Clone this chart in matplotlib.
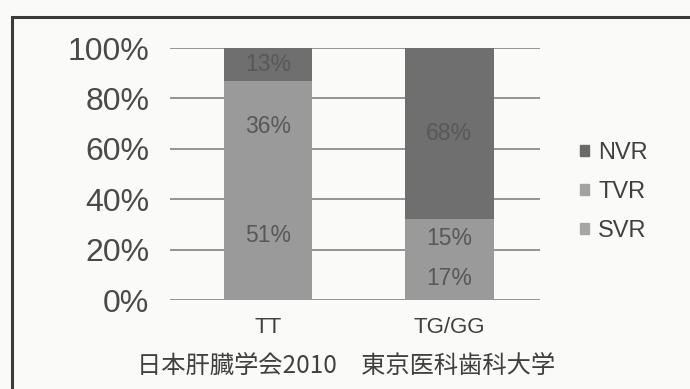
import numpy as np
import matplotlib
matplotlib.use('Agg')
import matplotlib.pyplot as plt
from matplotlib.patches import Patch, Rectangle

# genotype groups and response rates (%)
groups = ['TT', 'TG/GG']
svr = [51, 17]
tvr = [36, 15]
nvr = [13, 68]
yticks = [0, 20, 40, 60, 80, 100]
footer = '日本肝臓学会2010\u3000東京医科歯科大学'

plt.rcParams['font.family'] = ['Liberation Sans', 'DejaVu Sans']

col_svr = '#9a9a9a'
col_tvr = '#9a9a9a'
col_nvr = '#6f6f6f'
txt = '#4a4a4a'

fig = plt.figure(figsize=(6.9, 3.89), dpi=100)
fig.patch.set_facecolor('#fafaf8')

# scanned frame: only left and top edges are visible
fig.patches.append(Rectangle((12 / 690, -0.5), 2.0, 1.5 - 17 / 389,
                             transform=fig.transFigure, fill=False,
                             edgecolor='#3a3a3a', linewidth=2.2))

ax = fig.add_axes([170 / 690, 1 - 300 / 389, 370 / 690, 252 / 389])
ax.set_facecolor('none')

x = np.arange(len(groups))
w = 0.49
svr_a = np.array(svr)
tvr_a = np.array(tvr)
nvr_a = np.array(nvr)

ax.bar(x, svr_a, w, color=col_svr, zorder=2)
ax.bar(x, tvr_a, w, bottom=svr_a, color=col_tvr, zorder=2)
ax.bar(x, nvr_a, w, bottom=svr_a + tvr_a, color=col_nvr, zorder=2)

# value labels in the middle of each segment
for i in range(len(groups)):
    bottoms = [0, svr[i], svr[i] + tvr[i]]
    for b, v in zip(bottoms, [svr[i], tvr[i], nvr[i]]):
        ax.text(x[i], b + v / 2, f'{v}%', ha='center', va='center',
                fontsize=16.5, color='#585858', zorder=3)

for t in yticks:
    ax.axhline(t, color='#8c8c8c', linewidth=1.3, zorder=1)

ax.set_xlim(-0.54, 1.50)
ax.set_ylim(0, 100)
ax.set_yticks(yticks)
ax.set_yticklabels([f'{t}%' for t in yticks], fontsize=23, color=txt)
ax.set_xticks(x)
ax.set_xticklabels(groups, fontsize=16, color='#404040')
ax.tick_params(axis='y', length=0, pad=15)
ax.tick_params(axis='x', length=0, pad=12)
for s in ax.spines.values():
    s.set_visible(False)

handles = [Patch(color='#6a6a6a', label='NVR'),
           Patch(color='#a2a2a2', label='TVR'),
           Patch(color='#a6a6a6', label='SVR')]
fig.legend(handles=handles, loc='center left',
           bbox_to_anchor=(568 / 690, 1 - 192 / 389), frameon=False,
           fontsize=17, handlelength=0.38, handleheight=0.38,
           handletextpad=0.4, labelspacing=0.72, borderpad=0,
           labelcolor='#404040')

fig.text(346 / 690, 1 - 366 / 389, footer, ha='center', va='center',
         fontsize=17.5, color='#404040',
         family=['Noto Sans CJK JP', 'DejaVu Sans'])

fig.savefig('out.png', dpi=100, facecolor=fig.get_facecolor())
